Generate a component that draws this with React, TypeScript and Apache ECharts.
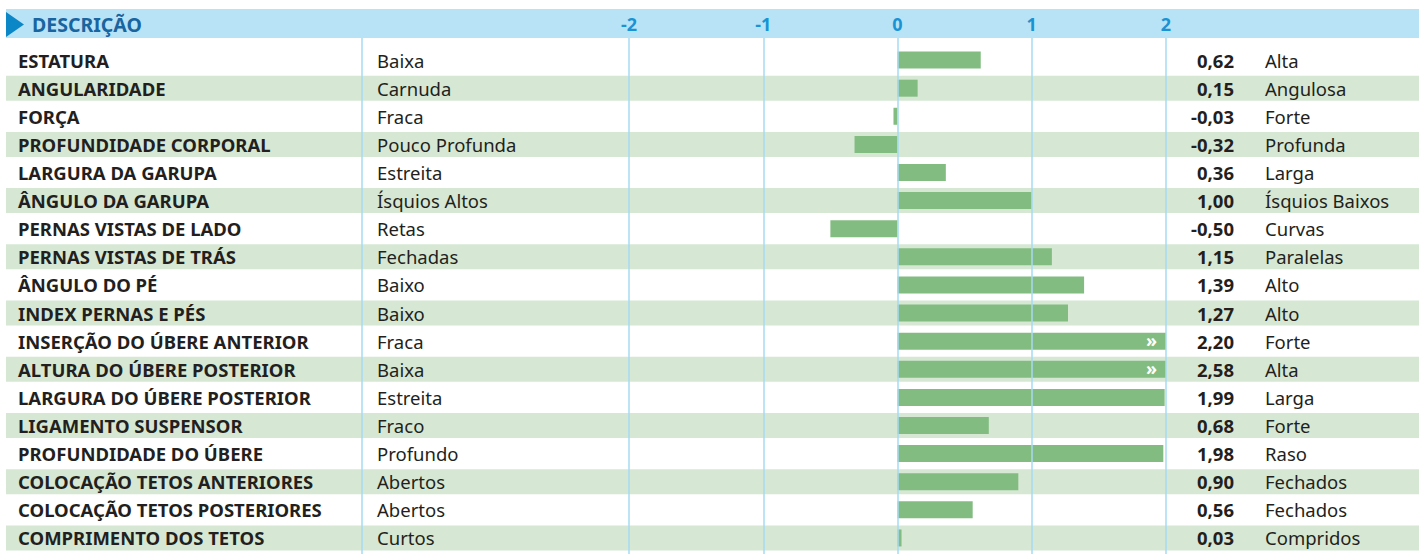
import React, { useEffect, useRef } from "react";
import * as echarts from "echarts";

const traits = [
  "ESTATURA",
  "ANGULARIDADE",
  "FORÇA",
  "PROFUNDIDADE CORPORAL",
  "LARGURA DA GARUPA",
  "ÂNGULO DA GARUPA",
  "PERNAS VISTAS DE LADO",
  "PERNAS VISTAS DE TRÁS",
  "ÂNGULO DO PÉ",
  "INDEX PERNAS E PÉS",
  "INSERÇÃO DO ÚBERE ANTERIOR",
  "ALTURA DO ÚBERE POSTERIOR",
  "LARGURA DO ÚBERE POSTERIOR",
  "LIGAMENTO SUSPENSOR",
  "PROFUNDIDADE DO ÚBERE",
  "COLOCAÇÃO TETOS ANTERIORES",
  "COLOCAÇÃO TETOS POSTERIORES",
  "COMPRIMENTO DOS TETOS",
];

const lowLabels = [
  "Baixa",
  "Carnuda",
  "Fraca",
  "Pouco Profunda",
  "Estreita",
  "Ísquios Altos",
  "Retas",
  "Fechadas",
  "Baixo",
  "Baixo",
  "Fraca",
  "Baixa",
  "Estreita",
  "Fraco",
  "Profundo",
  "Abertos",
  "Abertos",
  "Curtos",
];

const highLabels = [
  "Alta",
  "Angulosa",
  "Forte",
  "Profunda",
  "Larga",
  "Ísquios Baixos",
  "Curvas",
  "Paralelas",
  "Alto",
  "Alto",
  "Forte",
  "Alta",
  "Larga",
  "Forte",
  "Raso",
  "Fechados",
  "Fechados",
  "Compridos",
];

const values = [
  0.62, 0.15, -0.03, -0.32, 0.36, 1.0, -0.5, 1.15, 1.39, 1.27, 2.2, 2.58, 1.99,
  0.68, 1.98, 0.9, 0.56, 0.03,
];

const AXIS_MIN = -2;
const AXIS_MAX = 2;
const AXIS_INTERVAL = 1;
const headerTitle = "DESCRIÇÃO";

const FONT = "'Noto Sans', 'DejaVu Sans', sans-serif";
const TEXT_COLOR = "#231f20";
const GRID_LINE = "#a6dbf5";

const fmt = (v: number) => v.toFixed(2).replace(".", ",");

export default function App() {
  const ref = useRef<HTMLDivElement>(null);

  useEffect(() => {
    if (!ref.current) return;
    const chart = echarts.init(ref.current, undefined, { renderer: "svg" });

    const rowTop = 46;
    const rowsHeight = 506;

    const option: any = {
      animation: false,
      backgroundColor: "#ffffff",
      grid: [
        { left: 6, right: 0, top: rowTop, height: rowsHeight },
        { left: 629, width: 537, top: 38, height: 516 },
        { left: 629, width: 537, top: rowTop, height: rowsHeight },
      ],
      xAxis: [
        { gridIndex: 0, type: "value", min: 0, max: 1, show: false },
        {
          gridIndex: 1,
          type: "value",
          min: AXIS_MIN,
          max: AXIS_MAX,
          interval: AXIS_INTERVAL,
          position: "top",
          z: 3,
          axisLine: { show: false },
          axisTick: { show: false },
          splitLine: {
            show: true,
            lineStyle: { color: GRID_LINE, width: 1.5 },
          },
          axisLabel: {
            show: true,
            margin: 14,
            verticalAlign: "middle",
            color: "#1a93d3",
            fontFamily: FONT,
            fontWeight: "bold",
            fontSize: 18,
          },
        },
        {
          gridIndex: 2,
          type: "value",
          min: AXIS_MIN,
          max: AXIS_MAX,
          show: false,
          splitLine: { show: false },
        },
      ],
      yAxis: [
        {
          gridIndex: 0,
          type: "category",
          data: traits,
          inverse: true,
          show: false,
        },
        { gridIndex: 1, type: "value", show: false, splitLine: { show: false } },
        {
          gridIndex: 2,
          type: "category",
          data: traits,
          inverse: true,
          show: false,
        },
      ],
      graphic: [
        {
          type: "rect",
          z: -10,
          silent: true,
          shape: { x: 6, y: 9, width: 1413, height: 29 },
          style: { fill: "#b8e3f7" },
        },
        {
          type: "polygon",
          z: -9,
          silent: true,
          shape: {
            points: [
              [6, 12],
              [24, 24.5],
              [6, 37],
            ],
          },
          style: { fill: "#0b86c7" },
        },
        {
          type: "text",
          z: 10,
          silent: true,
          x: 32,
          y: 24.5,
          style: {
            text: headerTitle,
            fill: "#19659f",
            font: `bold 19.5px ${FONT}`,
            verticalAlign: "middle",
            align: "left",
          },
        },
        {
          type: "line",
          z: 10,
          silent: true,
          shape: { x1: 362, y1: 38, x2: 362, y2: 554 },
          style: { stroke: GRID_LINE, lineWidth: 1.5 },
        },
      ],
      series: [
        {
          type: "custom",
          xAxisIndex: 0,
          yAxisIndex: 0,
          z: 1,
          silent: true,
          data: traits.map((_, i) => [0, i]),
          renderItem: (params: any, api: any) => {
            const idx = api.value(1);
            if (idx % 2 !== 1) return null;
            const cs = params.coordSys;
            const y = api.coord([0, idx])[1];
            const band = api.size([0, 1])[1];
            const h = band * 0.89;
            return {
              type: "rect",
              shape: { x: cs.x, y: y - h / 2, width: cs.width, height: h },
              style: { fill: "#d6e8d4" },
            };
          },
        },
        {
          type: "bar",
          xAxisIndex: 2,
          yAxisIndex: 2,
          z: 2,
          barWidth: 17,
          itemStyle: { color: "#82bc80" },
          data: values.map((v) => ({
            value: Math.min(v, AXIS_MAX),
            label:
              v > AXIS_MAX
                ? {
                    show: true,
                    position: "insideRight",
                    formatter: "»",
                    color: "#ffffff",
                    fontFamily: FONT,
                    fontWeight: "bold",
                    fontSize: 18,
                    offset: [-4, -1],
                  }
                : { show: false },
          })),
        },
        {
          type: "custom",
          xAxisIndex: 0,
          yAxisIndex: 0,
          z: 5,
          silent: true,
          data: traits.map((_, i) => [0, i]),
          renderItem: (params: any, api: any) => {
            const idx = api.value(1);
            const y = api.coord([0, idx])[1];
            return {
              type: "group",
              children: [
                {
                  type: "text",
                  x: 18,
                  y,
                  style: {
                    text: traits[idx],
                    fill: TEXT_COLOR,
                    font: `bold 18.5px ${FONT}`,
                    verticalAlign: "middle",
                    align: "left",
                  },
                },
                {
                  type: "text",
                  x: 377,
                  y,
                  style: {
                    text: lowLabels[idx],
                    fill: TEXT_COLOR,
                    font: `18.5px ${FONT}`,
                    verticalAlign: "middle",
                    align: "left",
                  },
                },
                {
                  type: "text",
                  x: 1234,
                  y,
                  style: {
                    text: fmt(values[idx]),
                    fill: TEXT_COLOR,
                    font: `bold 18.5px ${FONT}`,
                    verticalAlign: "middle",
                    align: "right",
                  },
                },
                {
                  type: "text",
                  x: 1265,
                  y,
                  style: {
                    text: highLabels[idx],
                    fill: TEXT_COLOR,
                    font: `18.5px ${FONT}`,
                    verticalAlign: "middle",
                    align: "left",
                  },
                },
              ],
            };
          },
        },
      ],
    };

    chart.setOption(option);
    return () => {
      chart.dispose();
    };
  }, []);

  return (
    <div
      ref={ref}
      style={{ position: "absolute", left: 0, top: 0, width: 1419, height: 554 }}
    />
  );
}
